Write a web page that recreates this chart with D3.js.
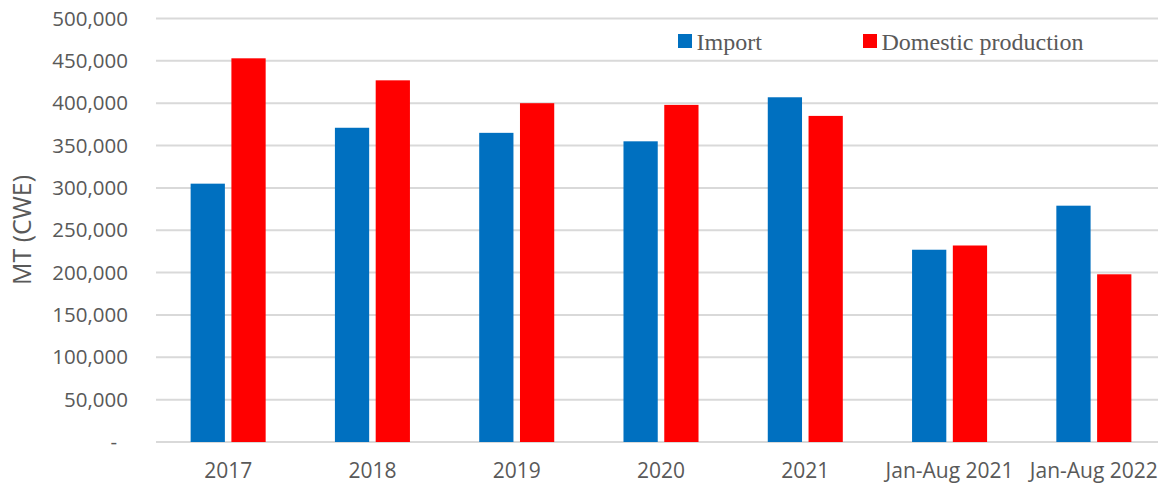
<!DOCTYPE html>
<html lang="en">
<head>
<meta charset="UTF-8">
<script src="https://cdn.jsdelivr.net/npm/d3@7"></script>
<style>
  body { margin: 0; background: #fff; }
  svg { display: block; }
  .tick text { fill: #595959; font-family: "Open Sans", sans-serif; }
</style>
</head>
<body>
<svg></svg>
<script>
// data
const categories = ['2017', '2018', '2019', '2020', '2021', 'Jan-Aug 2021', 'Jan-Aug 2022'];
const seriesNames = ['Import', 'Domestic production'];
const importValues = [305000, 371000, 365000, 355000, 407000, 227000, 279000];
const domesticValues = [453000, 427000, 400000, 398000, 385000, 232000, 198000];
const yTicks = [0, 50000, 100000, 150000, 200000, 250000, 300000, 350000, 400000, 450000, 500000];
const colors = ['#0070C0', '#FF0000'];

const width = 1158, height = 487;
const svg = d3.select('svg').attr('width', width).attr('height', height);

const x0 = d3.scaleBand()
    .domain(categories)
    .range([156, 1166])
    .paddingInner(0.48)
    .paddingOuter(0.24);

const x1 = d3.scaleBand()
    .domain(seriesNames)
    .range([0, x0.bandwidth()])
    .paddingInner(0.16);

const y = d3.scaleLinear()
    .domain([0, 500000])
    .range([442, 18.5]);

// gridlines
svg.append('g')
    .selectAll('line')
    .data(yTicks)
    .enter()
    .append('line')
    .attr('x1', 156)
    .attr('x2', width)
    .attr('y1', d => y(d))
    .attr('y2', d => y(d))
    .attr('stroke', '#d9d9d9')
    .attr('stroke-width', 2);

// y axis
const fmt = d3.format(',');
const yAxis = svg.append('g')
    .attr('transform', 'translate(140,0)')
    .call(d3.axisLeft(y).tickValues(yTicks).tickSize(0).tickPadding(12)
        .tickFormat(d => d === 0 ? '-' : fmt(d)));
yAxis.select('.domain').remove();
yAxis.selectAll('text').attr('font-size', 20.5);
yAxis.selectAll('.tick').filter(d => d === 0).select('text').attr('dx', -11);

// x axis
const xAxis = svg.append('g')
    .attr('transform', 'translate(0,442)')
    .call(d3.axisBottom(x0).tickSize(0).tickPadding(21));
xAxis.select('.domain').remove();
xAxis.selectAll('text').attr('font-size', 21);

// y title
svg.append('text')
    .attr('transform', 'translate(31,230) rotate(-90)')
    .attr('text-anchor', 'middle')
    .attr('fill', '#595959')
    .attr('font-family', 'Open Sans, sans-serif')
    .attr('font-size', 25)
    .text('MT (CWE)');

// bars
const rows = categories.map((c, i) => ({ cat: c, values: [importValues[i], domesticValues[i]] }));

svg.append('g')
    .selectAll('g')
    .data(rows)
    .enter()
    .append('g')
    .attr('transform', d => `translate(${x0(d.cat)},0)`)
    .selectAll('rect')
    .data(d => d.values.map((v, j) => ({ key: seriesNames[j], value: v, j: j })))
    .enter()
    .append('rect')
    .attr('x', d => x1(d.key))
    .attr('width', x1.bandwidth())
    .attr('y', d => y(d.value))
    .attr('height', d => y(0) - y(d.value))
    .attr('fill', d => colors[d.j]);

// legend
const legendPos = [678, 863];
const legend = svg.append('g')
    .selectAll('g')
    .data(seriesNames)
    .enter()
    .append('g')
    .attr('transform', (d, i) => `translate(${legendPos[i]},34)`);

legend.append('rect')
    .attr('width', 14)
    .attr('height', 14)
    .attr('fill', (d, i) => colors[i]);

legend.append('text')
    .attr('x', 18.5)
    .attr('y', 15.5)
    .attr('fill', '#595959')
    .attr('font-family', 'Liberation Serif, Times New Roman, serif')
    .attr('font-size', 24)
    .text(d => d);
</script>
</body>
</html>
